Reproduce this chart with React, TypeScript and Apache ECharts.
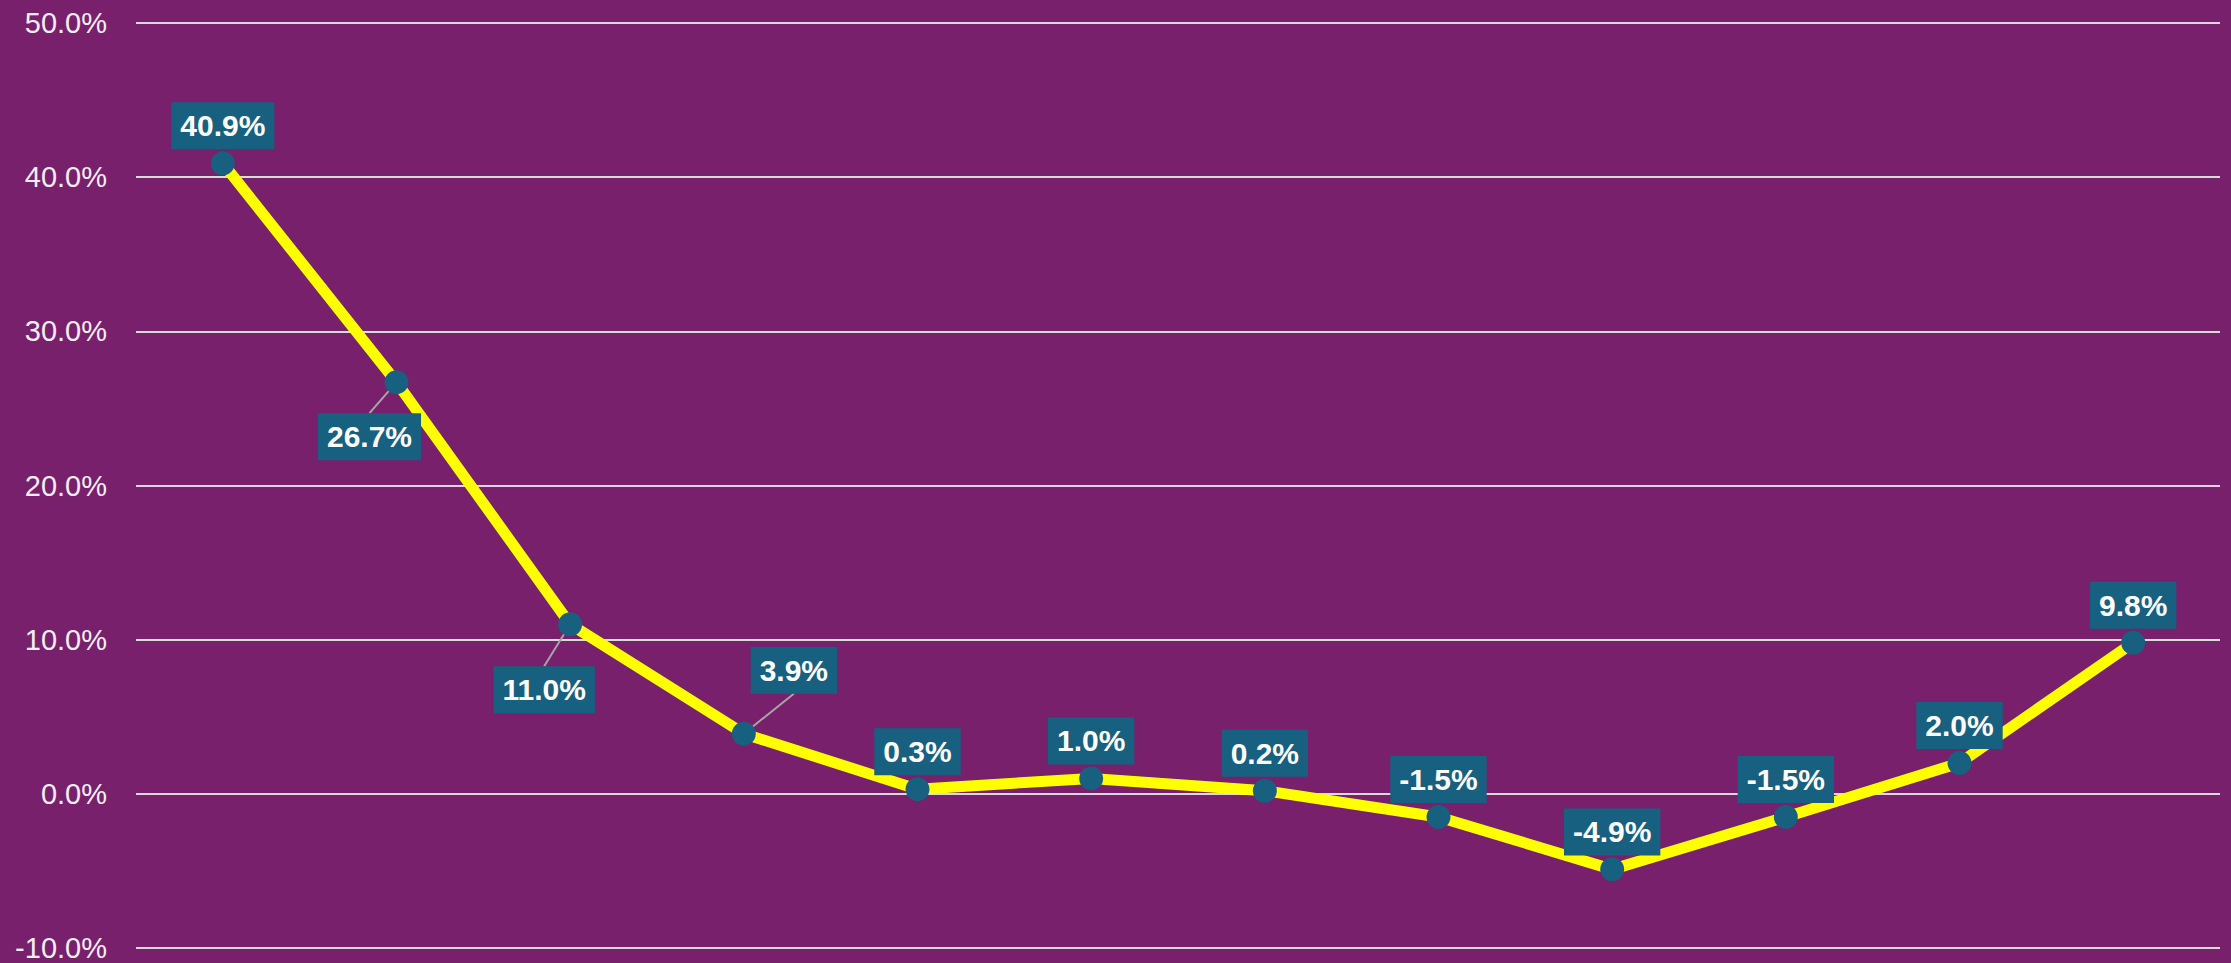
import React, { useEffect, useRef } from "react";
import * as echarts from "echarts";

const categories = ["P1", "P2", "P3", "P4", "P5", "P6", "P7", "P8", "P9", "P10", "P11", "P12"];
const growth = [40.9, 26.7, 11.0, 3.9, 0.3, 1.0, 0.2, -1.5, -4.9, -1.5, 2.0, 9.8];
const yTicks = { min: -10, max: 50, interval: 10 };
// label displacement for labels moved off the default top position
const labelShifts: Record<number, [number, number]> = {
  1: [-27, 92],
  2: [-26, 103],
  3: [50, -26],
};

const SYMBOL = 24;
const LABEL_H = 47;
const LABEL_DIST = 2;

export default function App() {
  const ref = useRef<HTMLDivElement>(null);
  useEffect(() => {
    if (!ref.current) return;
    const chart = echarts.init(ref.current, null, { renderer: "svg" });
    chart.setOption({
      animation: false,
      backgroundColor: "#78206c",
      grid: { left: 136, right: 11, top: 23, bottom: 15 },
      xAxis: {
        type: "category",
        data: categories,
        boundaryGap: true,
        axisLine: { show: false },
        axisTick: { show: false },
        axisLabel: { show: false },
        splitLine: { show: false },
      },
      yAxis: {
        type: "value",
        min: yTicks.min,
        max: yTicks.max,
        interval: yTicks.interval,
        axisLine: { show: false },
        axisTick: { show: false },
        axisLabel: {
          color: "#f4eef3",
          fontSize: 29,
          fontFamily: "Liberation Sans, Arial, sans-serif",
          margin: 29,
          formatter: (v: number) => v.toFixed(1) + "%",
        },
        splitLine: { lineStyle: { color: "#d9d9d9", width: 2 } },
      },
      series: [
        {
          type: "line",
          data: growth,
          symbol: "circle",
          symbolSize: SYMBOL,
          itemStyle: { color: "#17607f" },
          lineStyle: { color: "#ffff00", width: 11 },
          z: 3,
          label: {
            show: true,
            position: "top",
            distance: LABEL_DIST,
            color: "#ffffff",
            fontSize: 30,
            fontWeight: "bold",
            fontFamily: "Liberation Sans, Arial, sans-serif",
            backgroundColor: "#17607f",
            padding: [8, 9],
            lineHeight: 31,
            formatter: (p: any) => Number(p.value).toFixed(1) + "%",
          },
          labelLayout: (params: any) => {
            const s = labelShifts[params.dataIndex];
            if (!s) return {};
            return { dx: s[0], dy: s[1] };
          },
        },
      ],
    });

    // leader lines from moved labels back to their points
    const leaders: any[] = [];
    Object.keys(labelShifts).forEach((k) => {
      const i = Number(k);
      const [dx, dy] = labelShifts[i];
      const pt = chart.convertToPixel({ gridIndex: 0 }, [categories[i], growth[i]]) as number[];
      const cx = pt[0] + dx;
      const cy = pt[1] - SYMBOL / 2 - LABEL_DIST - LABEL_H / 2 + dy;
      const below = cy > pt[1];
      const ey = below ? cy - LABEL_H / 2 : cy + LABEL_H / 2;
      leaders.push({
        type: "line",
        z: 2,
        shape: { x1: pt[0], y1: pt[1], x2: cx, y2: ey },
        style: { stroke: "#a6a6a6", lineWidth: 2 },
      });
    });
    chart.setOption({ graphic: leaders });
    return () => chart.dispose();
  }, []);
  return (
    <div
      ref={ref}
      style={{ position: "fixed", left: 0, top: 0, width: 2231, height: 963 }}
    />
  );
}
